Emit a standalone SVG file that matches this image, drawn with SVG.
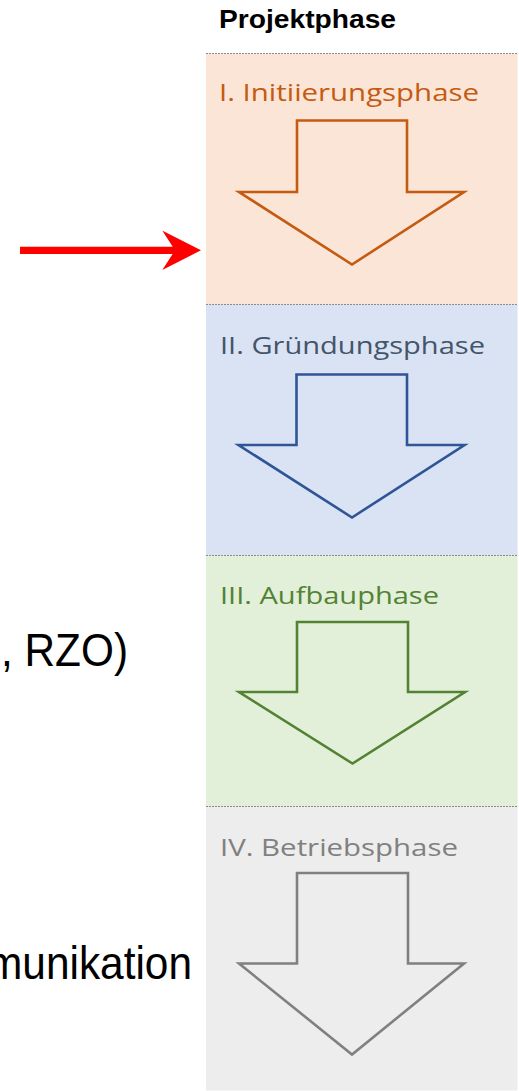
<svg xmlns="http://www.w3.org/2000/svg" width="519" height="1091" viewBox="0 0 519 1091">
<style>
.sep{stroke:#8a8a8a;stroke-width:1.2;stroke-dasharray:2 1;fill:none}
.lbl{font-family:"Open Sans","Liberation Sans",sans-serif;font-size:24.5px}
.big{font-family:"Liberation Sans",Arial,sans-serif;font-size:47px;fill:#000}
.dn{stroke-width:2.6;stroke-linejoin:miter}
</style>
<defs>
<marker id="redhead" viewBox="0 0 38.7 39.4" refX="12.7" refY="19.7" markerWidth="38.7" markerHeight="39.4" markerUnits="userSpaceOnUse" orient="auto">
<path d="M0,0 L38.7,19.7 L0,39.4 L12.7,19.7 Z" fill="#ff0000"/>
</marker>
</defs>
<rect width="519" height="1091" fill="#ffffff"/>
<text x="219" y="28" font-family="'Liberation Sans',Arial,sans-serif" font-weight="bold" font-size="26" textLength="177" lengthAdjust="spacingAndGlyphs" fill="#000">Projektphase</text>

<g id="phase1">
<rect x="206" y="54" width="311.5" height="250.5" fill="#fbe5d6"/>
<text class="lbl" x="219" y="101" fill="#c55a11" textLength="260" lengthAdjust="spacingAndGlyphs">I. Initiierungsphase</text>
<polygon class="dn" points="297,120.5 407,120.5 407,192 464,192 352,264.5 239,192 297,192" fill="#fbe5d6" stroke="#c55a11"/>
</g>
<g id="phase2">
<rect x="206" y="304.5" width="311.5" height="251" fill="#dae3f3"/>
<text class="lbl" x="220" y="353.5" fill="#44546a" textLength="265" lengthAdjust="spacingAndGlyphs">II. Gründungsphase</text>
<polygon class="dn" points="296.5,374.5 407,374.5 407,445 464.5,445 352,517.5 238.5,445 296.5,445" fill="#dae3f3" stroke="#2f5597"/>
</g>
<g id="phase3">
<rect x="206" y="555.5" width="311.5" height="251" fill="#e2f0d9"/>
<text class="lbl" x="220" y="603.5" fill="#548235" textLength="219" lengthAdjust="spacingAndGlyphs">III. Aufbauphase</text>
<polygon class="dn" points="297,622 408,622 408,692 465,692 352.5,763.5 239,692 297,692" fill="#e2f0d9" stroke="#548235"/>
</g>
<g id="phase4">
<rect x="206" y="806.5" width="311.5" height="284" fill="#ededed"/>
<text class="lbl" x="220" y="856" fill="#808080" textLength="238" lengthAdjust="spacingAndGlyphs">IV. Betriebsphase</text>
<polygon class="dn" points="297,873 408,873 408,963.5 464,963.5 352,1054.5 239,963.5 297,963.5" fill="#ededed" stroke="#808080"/>
</g>

<g id="separators">
<line class="sep" x1="206" y1="53.5" x2="517.5" y2="53.5"/>
<line class="sep" x1="206" y1="304.5" x2="517.5" y2="304.5"/>
<line class="sep" x1="206" y1="555.5" x2="517.5" y2="555.5"/>
<line class="sep" x1="206" y1="806.5" x2="517.5" y2="806.5"/>
</g>

<g id="left-texts">
<text class="big" x="128" y="666" text-anchor="end" textLength="127" lengthAdjust="spacingAndGlyphs">, RZO)</text>
<text class="big" x="192" y="978.5" text-anchor="end" textLength="205" lengthAdjust="spacingAndGlyphs">munikation</text>
</g>

<g id="connectors">
<line x1="20" y1="250.3" x2="175" y2="250.3" stroke="#ff0000" stroke-width="7.3" marker-end="url(#redhead)"/>
</g>
</svg>
